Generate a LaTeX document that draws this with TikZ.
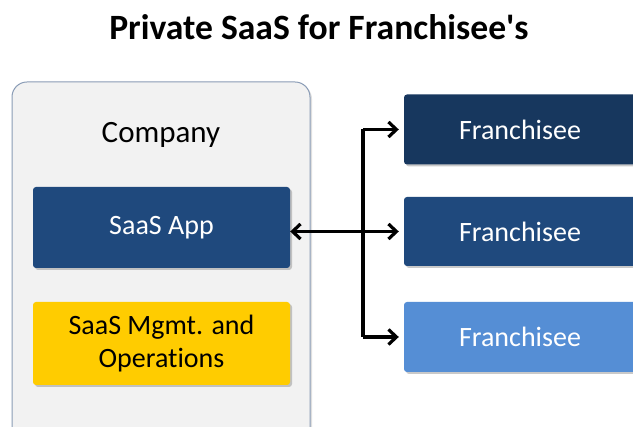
\documentclass[tikz,border=0pt]{standalone}
\usepackage{fontspec}
\setmainfont{Carlito}[Ligatures={NoCommon,TeXOff}]
\usetikzlibrary{arrows.meta,shadows}
\definecolor{navy}{HTML}{17375E}
\definecolor{midblue}{HTML}{1F497D}
\definecolor{lightblue}{HTML}{558ED5}
\definecolor{gold}{HTML}{FFCC00}
\definecolor{panel}{HTML}{F2F2F2}
\definecolor{panelborder}{HTML}{8A9CB6}
\tikzset{
  card/.style={rounded corners=3pt, inner sep=0pt, align=center,
    font=\fontsize{28}{33}\selectfont,
    drop shadow={shadow xshift=2pt, shadow yshift=-2pt, opacity=0.35, fill=black!60}},
  darkcard/.style={card, fill=#1, text=white},
  link/.style={line width=3.2pt, draw=black},
  barb/.tip={Straight Barb[length=8pt,width=15pt,line width=3.2pt]},
  tip/.style={-barb}
}
\begin{document}
\begin{tikzpicture}[x=1pt,y=-1pt]
\useasboundingbox (0,0) rectangle (633,427);
\clip (0,0) rectangle (633,427);
\fill[white] (0,0) rectangle (633,427);
\node[font=\fontsize{35.6}{40}\selectfont\bfseries] (title) at (319,27) {Private SaaS for Franchisee's};
\draw[panelborder, fill=panel, line width=1pt, rounded corners=15pt,
  drop shadow={shadow xshift=2pt, shadow yshift=-2pt, opacity=0.25, fill=black!50}]
  (12,82) rectangle (310,460);
\node[font=\fontsize{31}{36}\selectfont] (company) at (161,135) {Company};
\node[darkcard=midblue, minimum width=257pt, minimum height=81pt] (saas) at (161.5,227.5) {SaaS App};
\node[card, fill=gold, minimum width=257pt, minimum height=83pt] (ops) at (161.5,343.5) {SaaS Mgmt. and\\Operations};
\node[darkcard=navy, minimum width=232pt, minimum height=70pt] (f1) at (520,129.5) {Franchisee};
\node[darkcard=midblue, minimum width=232pt, minimum height=69pt] (f2) at (520,231.5) {Franchisee};
\node[darkcard=lightblue, minimum width=232pt, minimum height=70pt] (f3) at (520,337) {Franchisee};
\coordinate (jx) at (363,0);
\draw[link] (jx |- f1.west) -- (jx |- f3.west);
\draw[link, tip, shorten >=5pt] (jx |- f1.west) -- (f1.west);
\draw[link, tip, shorten >=5pt] (jx |- f3.west) -- (f3.west);
\draw[link, barb-barb, shorten >=5pt] (saas.east |- f2.west) -- (f2.west);
\end{tikzpicture}
\end{document}
